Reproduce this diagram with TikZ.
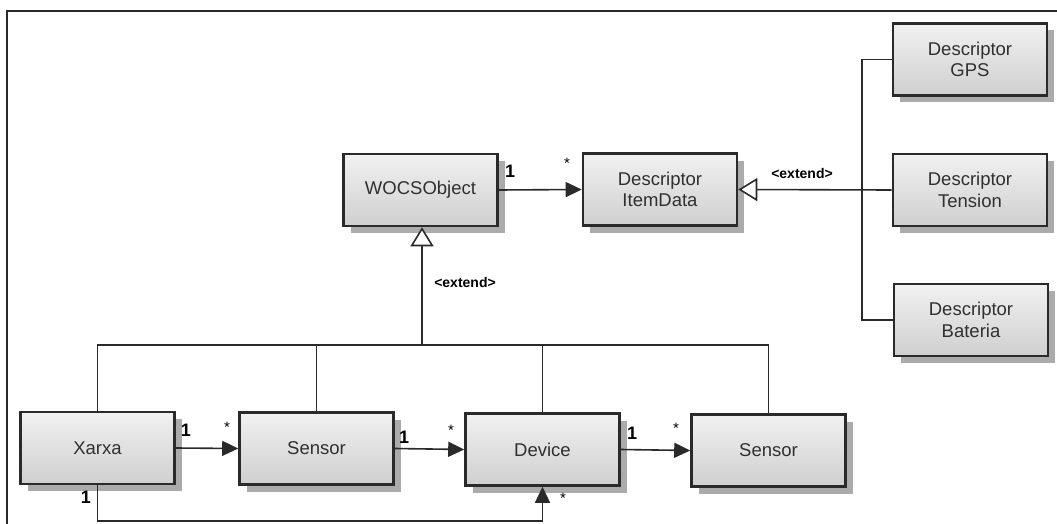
\documentclass[tikz,border=0pt]{standalone}
\usepackage{fontspec}
\setmainfont{Liberation Sans}
\usetikzlibrary{arrows.meta,shadows}
\definecolor{edge}{HTML}{2A2A2A}
\definecolor{ink}{HTML}{303030}
\definecolor{boxtop}{HTML}{F1F1F1}
\definecolor{boxbot}{HTML}{CFCFCF}
\definecolor{shade}{HTML}{ABABAB}
\tikzset{
  classbox/.style={rectangle, draw=edge, line width=2.6pt,
    top color=boxtop, bottom color=boxbot,
    minimum width=154pt, minimum height=72pt, inner sep=0pt,
    align=center, text=ink, font=\fontsize{18.5}{21.5}\selectfont,
    general shadow={fill=shade, shadow xshift=7pt, shadow yshift=-7pt}},
  link/.style={draw=edge, line width=1.6pt},
  assoc/.style={link, -{Triangle[length=16pt,width=15pt]}},
  extends/.style={link, -{Triangle[open,length=19pt,width=23pt,fill=white,line width=1.6pt]}},
  mult/.style={inner sep=0pt, text=black, font=\bfseries\fontsize{18}{18}\selectfont},
  many/.style={inner sep=0pt, text=black, font=\fontsize{15}{15}\selectfont},
  stereo/.style={inner sep=0pt, text=black, font=\bfseries\fontsize{14}{14}\selectfont},
}
\begin{document}
\begin{tikzpicture}[x=1pt,y=-1pt]
\useasboundingbox (0,0) rectangle (1057,524);
\fill[white] (0,0) rectangle (1057,524);
\draw[draw=edge, line width=1.2pt] (1057,11) -- (7,11) -- (7,524);

% classes
\node[classbox] (wocs) at (420.5,190) {WOCSObject};
\node[classbox] (item) at (660,189.5) {Descriptor\\ItemData};
\node[classbox] (gps)  at (970,59.5) {Descriptor\\GPS};
\node[classbox] (tens) at (970,190) {Descriptor\\Tension};
\node[classbox] (bat)  at (971,320) {Descriptor\\Bateria};
\node[classbox] (xarxa) at (97.5,448) {Xarxa};
\node[classbox] (sensA) at (316.5,448.5) {Sensor};
\node[classbox] (dev)   at (542.5,449.5) {Device};
\node[classbox] (sensB) at (768.5,450.5) {Sensor};

% descriptor hierarchy
\coordinate (trunk) at (862,190);
\draw[link] (gps.west) -| (trunk) |- (bat.west);
\draw[extends] (tens.west) -- (item.east);
\node[stereo] (ext1) at (802,173) {<extend>};

% WOCSObject hierarchy
\coordinate (bus) at (422,345);
\draw[extends] (bus) -- (bus |- wocs.south);
\draw[link] (xarxa.north) |- (sensB.north |- bus) -- (sensB.north);
\draw[link] (sensA.north) -- (sensA.north |- bus);
\draw[link] (dev.north) -- (dev.north |- bus);
\node[stereo] (ext2) at (465,282) {<extend>};

% associations
\draw[assoc] (wocs.east) -- (item.west);
\node[mult] (m1) at (510,171) {1};
\node[many] (s1) at (567,163) {*};

\draw[assoc] (xarxa.east) -- (sensA.west);
\node[mult] (m2) at (186,430) {1};
\node[many] (s2) at (227,427) {*};

\draw[assoc] (sensA.east) -- (dev.west);
\node[mult] (m3) at (404,437) {1};
\node[many] (s3) at (451,430) {*};

\draw[assoc] (dev.east) -- (sensB.west);
\node[mult] (m4) at (632,433) {1};
\node[many] (s4) at (676,428) {*};

\coordinate (loop) at (97.5,521);
\draw[assoc] (xarxa.south) -- (loop) -| (dev.south);
\node[mult] (m5) at (86,497) {1};
\node[many] (s5) at (563,498) {*};
\end{tikzpicture}
\end{document}
